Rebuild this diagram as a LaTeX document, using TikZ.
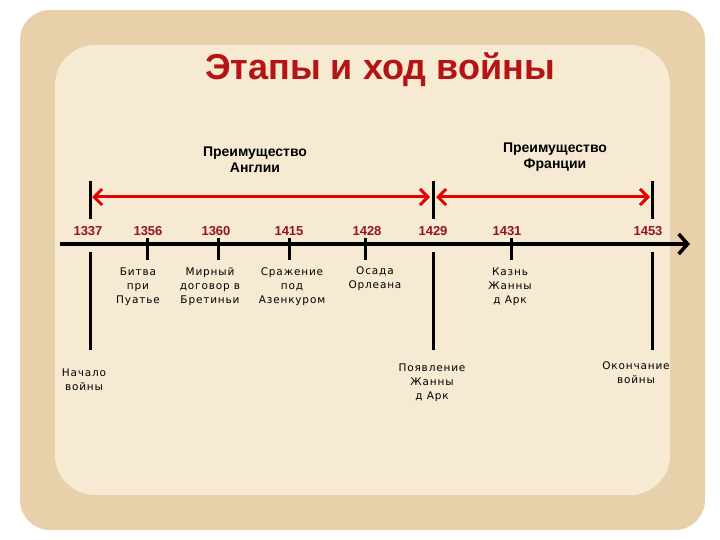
\documentclass[tikz,border=0pt]{standalone}
\usepackage{fontspec}
\setmainfont{Liberation Sans}
\newfontfamily\evfont[LetterSpace=8]{DejaVu Sans}
\usetikzlibrary{arrows.meta}
\definecolor{yrred}{RGB}{150,20,30}
\begin{document}
\begin{tikzpicture}[x=1pt,y=-1pt,
  lbl/.style={font=\bfseries\fontsize{14}{16}\selectfont,align=center,inner sep=0pt},
  yr/.style={font=\bfseries\fontsize{13}{14}\selectfont,text=yrred,inner sep=0pt},
  ev/.style={font=\evfont\fontsize{10.5}{14}\selectfont,align=center,inner sep=0pt},
  vline/.style={line width=3pt,black},
  redarr/.style={line width=3pt,red!90!black,{Straight Barb[length=8pt,width=16pt]}-{Straight Barb[length=8pt,width=16pt]}}]
\useasboundingbox (0,0) rectangle (720,540);
\fill[white] (0,0) rectangle (720,540);
\fill[rounded corners=30pt,fill={rgb,255:red,232;green,208;blue,170}] (20,10) rectangle (705,530);
\fill[rounded corners=40pt,fill={rgb,255:red,246;green,234;blue,210}] (55,45) rectangle (670,495);
\node[font=\bfseries\fontsize{36}{40}\selectfont,text={rgb,255:red,180;green,20;blue,20}] (title) at (380,70) {Этапы и ход войны};
\node[lbl] (eng) at (255,160) {Преимущество\\Англии};
\node[lbl] (fr) at (555,157) {Преимущество\\Франции};
\coordinate (tl0) at (60,244); \coordinate (tl1) at (690,244);
\draw[line width=3.5pt,-{Straight Barb[length=9pt,width=20pt]}] (tl0) -- (tl1);
\foreach \x/\n in {90/a,433/b,652/c}{
  \coordinate (\n1) at (\x,181); \coordinate (\n2) at (\x,219);
  \coordinate (\n3) at (\x,252); \coordinate (\n4) at (\x,350);
  \draw[vline] (\n1) -- (\n2); \draw[vline] (\n3) -- (\n4);}
\coordinate (r1) at (92,197); \coordinate (r2) at (430,197);
\coordinate (r3) at (436,197); \coordinate (r4) at (650,197);
\draw[redarr] (r1) -- (r2); \draw[redarr] (r3) -- (r4);
\foreach \x/\n in {147/t1,218/t2,289/t3,365/t4,511/t5}{
  \coordinate (\n a) at (\x,238); \coordinate (\n b) at (\x,260);
  \draw[line width=3pt] (\n a) -- (\n b);}
\foreach \x/\t in {88/1337,148/1356,216/1360,289/1415,367/1428,433/1429,507/1431,648/1453}
  \node[yr] (y\t) at (\x,231) {\t};
\node[ev] (e1) at (138,287) {Битва\\при\\Пуатье};
\node[ev] (e2) at (210,287) {Мирный\\договор в\\Бретиньи};
\node[ev] (e3) at (292,287) {Сражение\\под\\Азенкуром};
\node[ev] (e4) at (375,279) {Осада\\Орлеана};
\node[ev] (e5) at (510,287) {Казнь\\Жанны\\д Арк};
\node[ev] (e6) at (84,380) {Начало\\войны};
\node[ev] (e7) at (432,383) {Появление\\Жанны\\д Арк};
\node[ev] (e8) at (636,373) {Окончание\\войны};
\end{tikzpicture}
\end{document}
